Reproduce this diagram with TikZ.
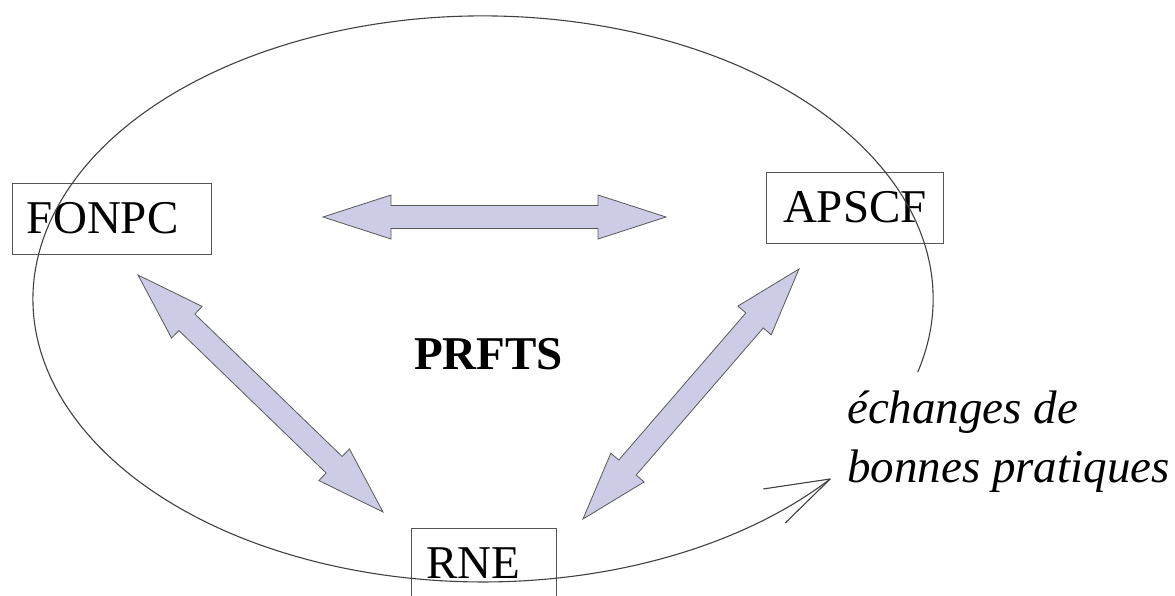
\documentclass[tikz,border=0pt]{standalone}
\usepackage{fontspec}
\setmainfont{Liberation Serif}
\usetikzlibrary{calc}
\definecolor{arrowfill}{RGB}{204,204,230}
\definecolor{lineg}{RGB}{85,85,85}
\newcommand\dblblock[2]{%
 \draw[blockarrow] (#1)
 -- ($(#1)!68pt!(#2)!22pt!90:(#2)$)
 -- ($(#1)!68pt!(#2)!11.5pt!90:(#2)$)
 -- ($(#2)!68pt!(#1)!11.5pt!-90:(#1)$)
 -- ($(#2)!68pt!(#1)!22pt!-90:(#1)$)
 -- (#2)
 -- ($(#2)!68pt!(#1)!22pt!90:(#1)$)
 -- ($(#2)!68pt!(#1)!11.5pt!90:(#1)$)
 -- ($(#1)!68pt!(#2)!11.5pt!-90:(#2)$)
 -- ($(#1)!68pt!(#2)!22pt!-90:(#2)$)
 -- cycle;}
\tikzset{
 bigtext/.style={font=\fontsize{47pt}{59pt}\selectfont},
 box/.style={bigtext, draw=lineg, line width=1pt, rectangle, align=left, minimum height=71pt, inner ysep=0pt},
 blockarrow/.style={fill=arrowfill, draw=black!65, line width=0.8pt, line join=miter},
 ellipseline/.style={draw=black!75, line width=1.1pt},
}
\begin{document}
\begin{tikzpicture}[x=1pt,y=-1pt]
\useasboundingbox (0,0) rectangle (1175,595);
% boxes
\node[box, text width=169pt, inner xsep=15pt] (fonpc) at (111.5,218.5) {FONPC};
\node[box, text width=143pt, inner xsep=17pt] (apscf) at (854.5,207.5) {APSCF};
\node[box, text width=115pt, inner xsep=15pt] (rne) at (483.5,563.5) {RNE};
% centre label
\node[font=\fontsize{47pt}{59pt}\selectfont\bfseries, anchor=base, inner sep=0pt] (prfts) at (488.5,369) {PRFTS};
% block arrows
\coordinate (h1) at (323,217);
\coordinate (h2) at (666,217);
\coordinate (d1a) at (138,275);
\coordinate (d1b) at (383,512);
\coordinate (d2a) at (799,269);
\coordinate (d2b) at (583,519);
\dblblock{h1}{h2}
\dblblock{d1a}{d1b}
\dblblock{d2a}{d2b}
% open ellipse with arrow
\coordinate (estart) at (917.7,372.2);
\draw[ellipseline] (estart) arc[start angle=-15, end angle=320.5, x radius=450pt, y radius=283pt] coordinate (tip);
\draw[ellipseline] (tip) -- ++(-67,10);
\draw[ellipseline] (tip) -- ++(-45,44);
% side label
\node[font=\fontsize{47pt}{59pt}\selectfont\itshape, anchor=base west, align=left, inner sep=0pt] (ech) at (847,482) {échanges de\\bonnes pratiques};
\end{tikzpicture}
\end{document}
